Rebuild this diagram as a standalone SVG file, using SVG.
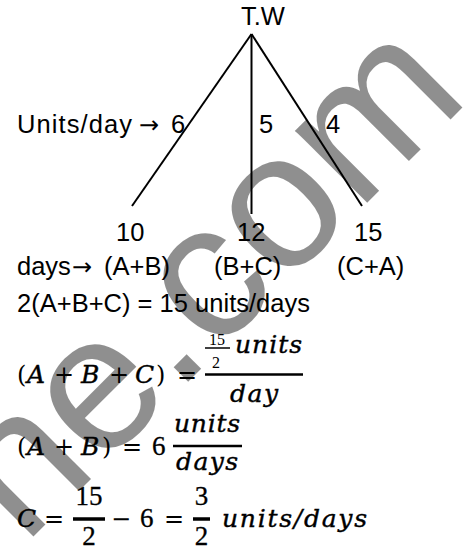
<svg xmlns="http://www.w3.org/2000/svg" width="465" height="551" viewBox="0 0 465 551">
<style>
.s{font-family:"Liberation Sans",Arial,sans-serif;font-size:25.5px;fill:#000}
.ar{font-family:"DejaVu Sans",sans-serif;font-size:24px;fill:#000}
.v{font-family:"DejaVu Serif",serif;font-style:italic;font-size:25px;fill:#000;stroke:#000;stroke-width:0.4}
.o{font-family:"DejaVu Serif",serif;font-size:24px;fill:#000}
.d{font-family:"Liberation Serif",serif;font-size:27px;fill:#000;stroke:#000;stroke-width:0.3}
.sm{font-family:"Liberation Serif",serif;font-size:16px;fill:#000}
.ln{stroke:#000;stroke-width:2;fill:none}
.bar{stroke:#000;fill:none}
</style>
<rect width="465" height="551" fill="#fff"/>
<g id="connectors">
<line class="ln" x1="251.5" y1="34" x2="132" y2="206"/>
<line class="ln" x1="251.5" y1="34" x2="251.5" y2="214" stroke-width="3.5"/>
<line class="ln" x1="251.5" y1="34" x2="362" y2="206"/>
</g>
<g id="tw"><text class="s" x="241" y="25">T.W</text></g>
<g id="rate-labels">
<text class="s" x="17" y="133" textLength="115">Units/day</text>
<text class="ar" x="139" y="133">→</text>
<text class="s" x="171" y="133">6</text>
<text class="s" x="259" y="133">5</text>
<text class="s" x="326" y="133">4</text>
</g>
<g id="ab"><text class="s" x="116" y="241">10</text><text class="s" x="104" y="275">(A+B)</text></g>
<g id="bc"><text class="s" x="237" y="241">12</text><text class="s" x="214" y="275">(B+C)</text></g>
<g id="ca"><text class="s" x="354" y="241">15</text><text class="s" x="337" y="275">(C+A)</text></g>
<g id="days"><text class="s" x="17" y="275">days</text><text class="ar" x="72" y="275">→</text></g>
<g id="eq0"><text class="s" x="17" y="312" textLength="293">2(A+B+C) = 15 units/days</text></g>
<g id="eq1">
<text class="o" x="17" y="383">(</text>
<text class="v" x="27" y="383">A</text>
<text class="o" x="54" y="383">+</text>
<text class="v" x="81" y="383">B</text>
<text class="o" x="109" y="383">+</text>
<text class="v" x="135" y="383">C</text>
<text class="o" x="156" y="383">)</text>
<text class="o" x="177" y="383">=</text>
<text class="sm" x="217" y="345" text-anchor="middle">15</text>
<line class="bar" x1="205" y1="348" x2="230" y2="348" stroke-width="1.5"/>
<text class="sm" x="216" y="368" text-anchor="middle">2</text>
<text class="v" x="235" y="353" textLength="67">units</text>
<line class="bar" x1="205" y1="374.5" x2="303" y2="374.5" stroke-width="2.5"/>
<text class="v" x="230" y="402" textLength="48">day</text>
</g>
<g id="eq2">
<text class="o" x="17" y="455">(</text>
<text class="v" x="27" y="455">A</text>
<text class="o" x="54" y="455">+</text>
<text class="v" x="81" y="455">B</text>
<text class="o" x="102" y="455">)</text>
<text class="o" x="122" y="455">=</text>
<text class="d" x="152" y="455">6</text>
<text class="v" x="174" y="432" textLength="66">units</text>
<line class="bar" x1="173" y1="446" x2="242" y2="446" stroke-width="2.5"/>
<text class="v" x="176" y="470" textLength="62">days</text>
</g>
<g id="eq3">
<text class="v" x="17" y="527">C</text>
<text class="o" x="44" y="527">=</text>
<text class="d" x="89" y="505" text-anchor="middle">15</text>
<line class="bar" x1="73" y1="519" x2="105" y2="519" stroke-width="3.5"/>
<text class="d" x="89" y="545" text-anchor="middle">2</text>
<text class="o" x="111" y="527">−</text>
<text class="d" x="140" y="527">6</text>
<text class="o" x="164" y="527">=</text>
<text class="d" x="201.5" y="505" text-anchor="middle">3</text>
<line class="bar" x1="193" y1="519" x2="210" y2="519" stroke-width="3.5"/>
<text class="d" x="201.5" y="545" text-anchor="middle">2</text>
<text class="v" x="222" y="527" font-size="26" textLength="145">units/days</text>
</g>
<g id="watermark"><text x="24" y="546" transform="rotate(-45 24 546)" style="font-family:'Liberation Sans',Arial,sans-serif;font-size:193px;fill:#000;fill-opacity:0.44">ne.com</text></g>
</svg>
